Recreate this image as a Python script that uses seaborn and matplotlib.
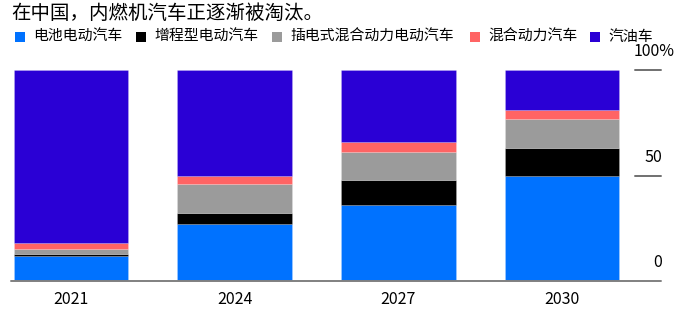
import matplotlib
matplotlib.use("Agg")
import matplotlib.pyplot as plt
import matplotlib.transforms as mtransforms
from matplotlib.patches import Rectangle
import seaborn as sns
import numpy as np

# Market share (%) of new car sales in China by powertrain
years = ["2021", "2024", "2027", "2030"]
battery_ev = [12, 27, 36, 50]
range_ext = [1, 5, 12, 13]
plugin_hybrid = [2, 14, 13, 14]
hybrid = [3, 4, 5, 4]
gasoline = [82, 50, 34, 19]

series_names = ["电池电动汽车", "增程型电动汽车", "插电式混合动力电动汽车", "混合动力汽车", "汽油车"]
series_values = [battery_ev, range_ext, plugin_hybrid, hybrid, gasoline]
series_colors = ["#0072FF", "#000000", "#9B9B9B", "#FF6464", "#2A00D5"]

y_ticks = [0, 50, 100]
y_tick_labels = ["0", "50", "100%"]

title = "在中国，内燃机汽车正逐渐被淘汰。"

sns.set_style("white")
plt.rcParams["font.family"] = ["Noto Sans CJK SC", "DejaVu Sans"]

W, H = 685, 328
fig = plt.figure(figsize=(W / 100, H / 100), dpi=100)

ax_left, ax_right = 11, 661
ax_top, ax_bottom = 70, 281
ax = fig.add_axes([ax_left / W, 1 - ax_bottom / H,
                   (ax_right - ax_left) / W, (ax_bottom - ax_top) / H])

# Stacked bars, one layer per powertrain
bottom = np.zeros(len(years))
for name, vals, col in zip(series_names, series_values, series_colors):
    sns.barplot(x=years, y=vals, bottom=bottom, color=col, width=0.7,
                saturation=1, ax=ax, edgecolor=(1, 1, 1, 0.3), linewidth=0.4,
                label=name)
    bottom = bottom + np.array(vals)

# Horizontal extent: first bar centre at 71px, spacing ~163.7px
unit = 163.7
ax.set_xlim((ax_left - 71) / unit, (ax_right - 71) / unit)
ax.set_ylim(0, 100)

for s in ax.spines.values():
    s.set_visible(False)
if ax.legend_:
    ax.legend_.remove()
ax.set_yticks([])
ax.tick_params(axis="x", length=0, pad=7, labelsize=11.5, colors="#000000")
ax.set_xlabel("")
ax.set_ylabel("")

# Baseline and right-side gridline stubs
ax.axhline(0, color="#808080", lw=1.4, zorder=5, clip_on=False)
for v in y_ticks[1:]:
    ax.axhline(v, xmin=0.96, xmax=1.0, color="#707070", lw=1.4, clip_on=False)

trans = mtransforms.blended_transform_factory(ax.transAxes, ax.transData)
for v, lab in zip(y_ticks, y_tick_labels):
    xpos = 1.0215 if lab.endswith("%") else 1.0015
    ax.text(xpos, v + 4.6, lab, transform=trans, ha="right", va="bottom",
            fontsize=11.5, color="#000000", clip_on=False)

# Title
fig.text(11 / W, 1 - 13 / H, title, ha="left", va="center", fontsize=14, color="#000000")

# Legend row
leg_y = 37
leg_sq_x = [15, 136, 272, 470, 590]
sq = 10
for x, name, col in zip(leg_sq_x, series_names, series_colors):
    fig.patches.append(Rectangle((x / W, 1 - (leg_y + sq / 2) / H), sq / W, sq / H,
                                 transform=fig.transFigure, facecolor=col,
                                 edgecolor="none"))
    fig.text((x + sq + 8) / W, 1 - leg_y / H, name, ha="left", va="center",
             fontsize=10.7, color="#000000")

fig.savefig("out.png", dpi=100)
